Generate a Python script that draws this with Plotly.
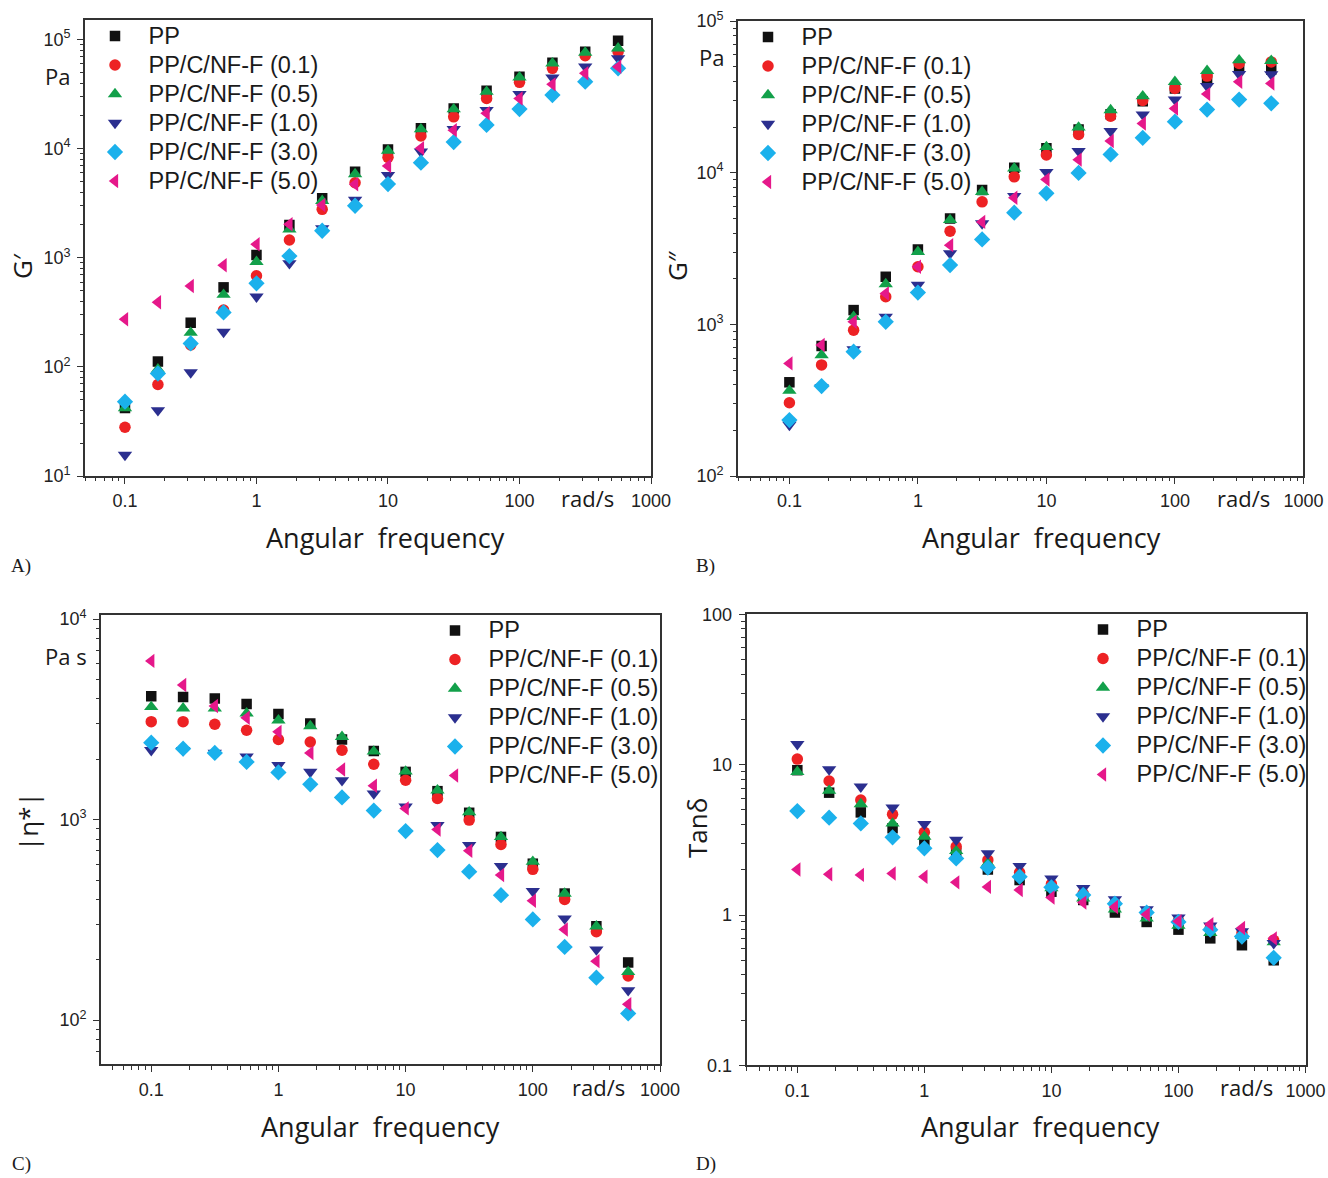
import plotly.graph_objects as go

W, H = 1328, 1178

freq = [0.1, 0.178, 0.316, 0.562, 1, 1.78, 3.16, 5.62, 10, 17.8, 31.6, 56.2, 100, 178, 316, 562]

series_names = ["PP", "PP/C/NF-F (0.1)", "PP/C/NF-F (0.5)", "PP/C/NF-F (1.0)", "PP/C/NF-F (3.0)", "PP/C/NF-F (5.0)"]

# Panel A: storage modulus G' (Pa)
g1_pp   = [42, 112, 254, 536, 1062, 2000, 3510, 6150, 9860, 15400, 23400, 34000, 45700, 61400, 77500, 97700]
g1_01   = [28, 69, 159, 332, 685, 1456, 2780, 4880, 8340, 13100, 19600, 28900, 40600, 54500, 71100, 77500]
g1_05   = [42, 95, 206, 459, 920, 1820, 3330, 5860, 9590, 15100, 23000, 33300, 45100, 60600, 76000, 83200]
g1_10   = [15.6, 40, 89, 209, 440, 890, 1860, 3390, 5740, 9390, 15100, 22600, 31700, 44800, 56400, 67400]
g1_30   = [48, 87, 164, 316, 583, 1038, 1770, 3000, 4740, 7440, 11500, 16500, 23100, 31000, 41100, 54600]
g1_50   = [273, 391, 551, 853, 1330, 2030, 3050, 4720, 6940, 10100, 14800, 21100, 28900, 38900, 49100, 56500]

# Panel B: loss modulus G'' (Pa)
g2_pp   = [415, 720, 1242, 2060, 3120, 5000, 7680, 10800, 14500, 19300, 24300, 29600, 36000, 41800, 49900, 48000]
g2_01   = [304, 540, 916, 1520, 2400, 4120, 6430, 9400, 13100, 17900, 23600, 30000, 36000, 43400, 52500, 53800]
g2_05   = [365, 628, 1122, 1845, 3010, 4880, 7480, 10700, 14800, 19900, 25900, 32000, 39800, 47000, 55200, 54700]
g2_10   = [217, 385, 684, 1122, 1820, 2940, 4630, 7010, 10100, 13900, 18800, 24200, 30400, 37200, 44700, 44500]
g2_30   = [234, 392, 660, 1040, 1620, 2460, 3630, 5450, 7310, 9970, 13200, 17000, 21700, 26100, 30400, 28700]
g2_50   = [553, 731, 1040, 1600, 2400, 3330, 4740, 6840, 9030, 12200, 16200, 21100, 26500, 33000, 39800, 38800]

# Panel C: complex viscosity |eta*| (Pa s)
eta_pp  = [4130, 4090, 4020, 3770, 3360, 3020, 2510, 2200, 1730, 1387, 1082, 820, 603, 428, 294, 194]
eta_01  = [3080, 3080, 2990, 2790, 2510, 2440, 2220, 1890, 1574, 1276, 995, 752, 565, 400, 276, 166]
eta_05  = [3650, 3590, 3590, 3390, 3130, 2930, 2590, 2190, 1740, 1400, 1090, 820, 617, 428, 294, 174]
eta_10  = [2220, 2220, 2150, 2060, 1870, 1730, 1570, 1350, 1160, 940, 746, 586, 440, 321, 225, 141]
eta_30  = [2420, 2260, 2150, 1940, 1720, 1500, 1290, 1110, 877, 705, 550, 420, 318, 232, 163, 108]
eta_50  = [6190, 4690, 3690, 3220, 2740, 2150, 1780, 1475, 1138, 893, 699, 529, 394, 283, 197, 120]

# Panel D: tan delta
tan_pp  = [9.2, 6.52, 4.82, 3.78, 3.07, 2.60, 2.01, 1.71, 1.43, 1.26, 1.04, 0.90, 0.80, 0.70, 0.63, 0.50]
tan_01  = [10.9, 7.8, 5.82, 4.68, 3.55, 2.85, 2.32, 1.92, 1.61, 1.39, 1.20, 1.05, 0.92, 0.82, 0.76, 0.68]
tan_05  = [8.98, 6.72, 5.48, 4.07, 3.32, 2.67, 2.21, 1.87, 1.51, 1.29, 1.09, 0.95, 0.85, 0.76, 0.73, 0.66]
tan_10  = [13.7, 9.3, 7.14, 5.18, 4.03, 3.16, 2.57, 2.12, 1.75, 1.51, 1.27, 1.09, 0.96, 0.85, 0.78, 0.65]
tan_30  = [4.92, 4.44, 4.07, 3.29, 2.78, 2.38, 2.07, 1.80, 1.53, 1.36, 1.19, 1.04, 0.90, 0.80, 0.72, 0.52]
tan_50  = [2.01, 1.87, 1.85, 1.89, 1.80, 1.65, 1.54, 1.47, 1.31, 1.21, 1.13, 1.01, 0.91, 0.87, 0.82, 0.70]

x_tickvals = [0.1, 1, 10, 100, 1000]
x_ticktext = ["0.1", "1", "10", "100", "1000"]

colors = ["#111111", "#ED2224", "#12A04A", "#2B2F8F", "#1BB1EC", "#E5188A"]
symbols = ["square", "circle", "triangle-up", "triangle-down", "diamond", "triangle-left"]
sizes = [10.5, 11.5, 12.5, 12.5, 12.5, 12.5]

panels = [
    dict(data=[g1_pp, g1_01, g1_05, g1_10, g1_30, g1_50], ax="", legend="legend"),
    dict(data=[g2_pp, g2_01, g2_05, g2_10, g2_30, g2_50], ax="2", legend="legend2"),
    dict(data=[eta_pp, eta_01, eta_05, eta_10, eta_30, eta_50], ax="3", legend="legend3"),
    dict(data=[tan_pp, tan_01, tan_05, tan_10, tan_30, tan_50], ax="4", legend="legend4"),
]

LEG_TEXT_SIZE = 23.5

fig = go.Figure()
for p in panels:
    for i, ys in enumerate(p["data"]):
        fig.add_trace(go.Scatter(
            x=freq, y=ys, mode="markers",
            name='<span style="font-size:%gpx">%s</span>' % (LEG_TEXT_SIZE, series_names[i]),
            xaxis="x" + p["ax"], yaxis="y" + p["ax"], legend=p["legend"],
            marker=dict(symbol=symbols[i], size=sizes[i], color=colors[i], line=dict(width=0)),
        ))

def px2x(px):
    return px / W

def px2y(py):
    return 1 - py / H

def minor_vals(lo, hi):
    vals = []
    for e in range(lo, hi):
        for m in range(2, 10):
            vals.append(m * 10 ** e)
    return vals

tick_font = dict(family="Liberation Sans, Arial, sans-serif", size=18, color="#222222")
line_col = "#333333"

def xaxis(dom, rng, anchor):
    return dict(
        type="log", domain=dom, range=rng, anchor=anchor, automargin=False,
        tickmode="array", tickvals=x_tickvals, ticktext=x_ticktext,
        ticks="outside", ticklen=6, tickwidth=1.3, tickcolor=line_col,
        showline=True, linecolor=line_col, linewidth=1.6, mirror=True,
        showgrid=False, zeroline=False, tickfont=tick_font, ticklabelstandoff=2,
        minor=dict(tickmode="array", tickvals=minor_vals(-2, 3), ticks="outside", ticklen=3.5,
                   tickwidth=1, tickcolor=line_col, showgrid=False),
    )

def yaxis(dom, rng, anchor, tv, tt, mlo, mhi):
    return dict(
        type="log", domain=dom, range=rng, anchor=anchor, automargin=False,
        tickmode="array", tickvals=tv, ticktext=tt,
        ticks="outside", ticklen=6, tickwidth=1.3, tickcolor=line_col,
        showline=True, linecolor=line_col, linewidth=1.6, mirror=True,
        showgrid=False, zeroline=False, tickfont=tick_font, ticklabelstandoff=3,
        minor=dict(tickmode="array", tickvals=minor_vals(mlo, mhi), ticks="outside", ticklen=3.5,
                   tickwidth=1, tickcolor=line_col, showgrid=False),
    )

pw = lambda e: "10<sup>%d</sup>" % e

layout = dict(
    width=W, height=H, margin=dict(l=0, r=0, t=0, b=0, autoexpand=False),
    paper_bgcolor="white", plot_bgcolor="white", showlegend=True,
    xaxis=xaxis([px2x(85), px2x(651)], [-1.304, 3.0], "y"),
    yaxis=yaxis([px2y(476), px2y(20.3)], [1, 5.177], "x",
                [10, 100, 1000, 1e4, 1e5], [pw(1), pw(2), pw(3), pw(4), pw(5)], 1, 5),
    xaxis2=xaxis([px2x(738), px2x(1303.4)], [-1.40, 3.0], "y2"),
    yaxis2=yaxis([px2y(476), px2y(21.1)], [2, 5], "x2",
                 [100, 1000, 1e4, 1e5], [pw(2), pw(3), pw(4), pw(5)], 2, 5),
    xaxis3=xaxis([px2x(101), px2x(660)], [-1.395, 3.0], "y3"),
    yaxis3=yaxis([px2y(1064.3), px2y(615.1)], [1.78, 4.02], "x3",
                 [100, 1000, 1e4], [pw(2), pw(3), pw(4)], 1, 4),
    xaxis4=xaxis([px2x(746.5), px2x(1305.5)], [-1.40, 3.0], "y4"),
    yaxis4=yaxis([px2y(1065.4), px2y(614.4)], [-1, 2], "x4",
                 [0.1, 1, 10, 100], ["0.1", "1", "10", "100"], -1, 2),
)

LEG_IW = 57
leg_font = dict(family="Liberation Sans, Arial, sans-serif", size=20, color="#1a1a1a")
def legend_at(mx, top):
    return dict(x=px2x(mx - (LEG_IW / 2 + 5)), y=px2y(top - 20.5), xanchor="left", yanchor="top",
                bgcolor="rgba(0,0,0,0)", borderwidth=0, font=leg_font,
                itemsizing="trace", itemwidth=LEG_IW, tracegroupgap=0)

layout["legend"] = legend_at(115, 37)
layout["legend2"] = legend_at(768, 38)
layout["legend3"] = legend_at(455, 631.5)
layout["legend4"] = legend_at(1103, 630.5)

title_font = dict(family="Open Sans, Noto Sans, sans-serif", size=27, color="#1a1a1a")
unit_font = dict(family="Open Sans, Noto Sans, sans-serif", size=22, color="#1a1a1a")
ylab_font = dict(family="Open Sans, Noto Sans, sans-serif", size=26, color="#1a1a1a")
panel_font = dict(family="Liberation Serif, Times New Roman, serif", size=19, color="#1a1a1a")

ann = []
def add(text, x, y, font, angle=0):
    ann.append(dict(text=text, x=px2x(x), y=px2y(y), xref="paper", yref="paper",
                    xanchor="center", yanchor="middle", showarrow=False, font=font, textangle=angle))

for cx, cy in [(385, 537), (1041, 537), (380, 1126), (1040, 1126)]:
    add("Angular&nbsp;&nbsp;frequency", cx, cy, title_font)
for cx, cy in [(587, 498), (1243, 498), (598, 1087), (1246, 1087)]:
    add("rad/s", cx, cy, unit_font)
add("Pa", 57.5, 76, unit_font)
add("Pa", 711, 57, unit_font)
add("Pa s", 66, 656, unit_font)
add("G\u2032", 22, 266, ylab_font, -90)
add("G\u2033", 677, 266, ylab_font, -90)
add("|\u03b7*|", 28, 821, ylab_font, -90)
add("Tan\u03b4", 697, 828, ylab_font, -90)
add("A)", 21, 566, panel_font)
add("B)", 706, 566, panel_font)
add("C)", 21, 1164, panel_font)
add("D)", 706, 1164, panel_font)

layout["annotations"] = ann
fig.update_layout(**layout)
fig.write_html("out.html")
